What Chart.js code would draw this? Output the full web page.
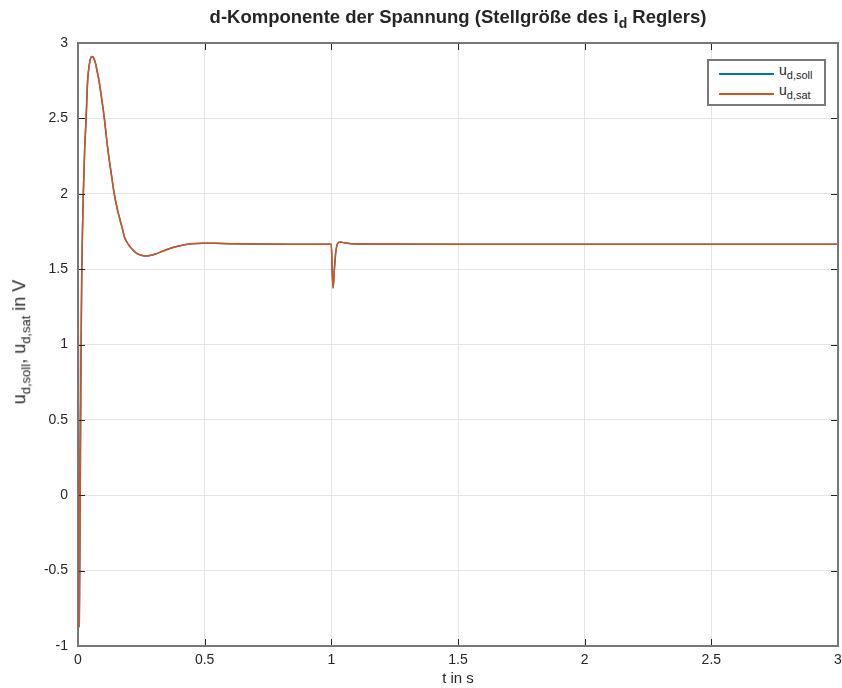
<!DOCTYPE html>
<html>
<head>
<meta charset="utf-8">
<script src="https://cdn.jsdelivr.net/npm/chart.js@4"></script>
<style>
body { margin: 0; background: #fff; }
#wrap { position: relative; width: 842px; height: 688px; font-family: "Liberation Sans", Arial, sans-serif; color: #262626; }
#title { position: absolute; left: 78px; width: 760px; top: 6px; text-align: center; font-weight: bold; font-size: 18.5px; }
#title sub { font-size: 14px; }
#ylab { position: absolute; left: 21px; top: 342px; transform: translate(-50%, -50%) rotate(-90deg); white-space: nowrap; font-size: 18px; }
#ylab sub { font-size: 13px; }
#legend { position: absolute; left: 707px; top: 59px; width: 115px; height: 43px; border: 2px solid #7a7a7a; background: #fff; font-size: 14px; }
#legend sub { font-size: 11px; }
.row { position: absolute; left: 10px; height: 16px; }
.row span.ln { position: absolute; left: 0; top: 7px; width: 55px; height: 2px; }
.row span.tx { position: absolute; left: 60px; top: -4px; white-space: nowrap; }
</style>
</head>
<body>
<div id="wrap">
  <canvas id="c" width="842" height="688"></canvas>
  <div id="title">d-Komponente der Spannung (Stellgröße des i<sub>d</sub> Reglers)</div>
  <div id="ylab">u<sub>d,soll</sub>, u<sub>d,sat</sub> in V</div>
  <div id="legend">
    <div class="row" style="top:5px"><span class="ln" style="background:#0072BD"></span><span class="tx">u<sub>d,soll</sub></span></div>
    <div class="row" style="top:25px"><span class="ln" style="background:#D95319"></span><span class="tx">u<sub>d,sat</sub></span></div>
  </div>
</div>
<script>
// time in s
const tVals = [0, 0.002, 0.005, 0.008, 0.011, 0.013, 0.015, 0.018, 0.021, 0.026, 0.032, 0.038, 0.045,
  0.05, 0.056, 0.062, 0.07, 0.077, 0.083, 0.09, 0.097, 0.104, 0.11, 0.116, 0.122, 0.129, 0.143, 0.155,
  0.166, 0.175, 0.183, 0.193, 0.205, 0.218, 0.232, 0.25, 0.265, 0.29, 0.31, 0.33, 0.36, 0.39,
  0.416, 0.449, 0.49, 0.54, 0.6, 0.7, 0.85, 1.0,
  1.003, 1.007, 1.012, 1.018, 1.025, 1.035, 1.05, 1.1, 1.5, 2.0, 2.5, 3.0]
// u_d,soll and u_d,sat (identical in the plot)
const uSoll = [1.9, 0.6, -0.87, -0.2, 0.7, 1.15, 1.5, 1.78, 2.0, 2.28, 2.5, 2.75, 2.86,
  2.9, 2.91, 2.9, 2.86, 2.8, 2.75, 2.67, 2.59, 2.5, 2.41, 2.32, 2.24, 2.16, 2.0, 1.9,
  1.826, 1.77, 1.715, 1.68, 1.649, 1.625, 1.605, 1.592, 1.587, 1.592, 1.603, 1.616, 1.635, 1.65,
  1.66, 1.668, 1.672, 1.671, 1.668, 1.666, 1.665, 1.665,
  1.5, 1.375, 1.5, 1.62, 1.67, 1.68, 1.675, 1.667, 1.665, 1.665, 1.665, 1.665]
const uSat = uSoll.slice()
const yTicks = [-1, -0.5, 0, 0.5, 1, 1.5, 2, 2.5, 3]
const xTicks = [0, 0.5, 1, 1.5, 2, 2.5, 3]

const pts = (ys) => tVals.map((t, i) => ({x: t, y: ys[i]}))
const tickFont = {family: '"Liberation Sans", Arial', size: 14}

// box around the axes with inward ticks, like matlab
const boxPlugin = {
  id: 'box',
  afterDraw(chart) {
    const {ctx, chartArea: a, scales} = chart
    ctx.save()
    ctx.strokeStyle = '#262626'
    ctx.lineWidth = 1
    ctx.beginPath()
    xTicks.forEach(v => {
      const px = Math.round(scales.x.getPixelForValue(v)) + 0.5
      ctx.moveTo(px, a.bottom); ctx.lineTo(px, a.bottom - 7)
      ctx.moveTo(px, a.top); ctx.lineTo(px, a.top + 7)
    })
    yTicks.forEach(v => {
      const py = Math.round(scales.y.getPixelForValue(v)) + 0.5
      ctx.moveTo(a.left, py); ctx.lineTo(a.left + 7, py)
      ctx.moveTo(a.right, py); ctx.lineTo(a.right - 7, py)
    })
    ctx.stroke()
    ctx.strokeStyle = '#777'
    ctx.lineWidth = 2
    ctx.strokeRect(a.left, a.top, a.right - a.left, a.bottom - a.top)
    ctx.restore()
  }
}

new Chart(document.getElementById('c'), {
  type: 'line',
  data: {
    datasets: [
      {label: 'u_d,soll', data: pts(uSoll), borderColor: '#0072BD', borderWidth: 1.5, pointRadius: 0, cubicInterpolationMode: 'monotone', order: 1},
      {label: 'u_d,sat', data: pts(uSat), borderColor: '#D95319', borderWidth: 1.5, pointRadius: 0, cubicInterpolationMode: 'monotone', order: 0}
    ]
  },
  options: {
    responsive: false,
    animation: false,
    layout: {padding: {left: 0, top: 43, right: 4, bottom: 0}},
    plugins: {legend: {display: false}, tooltip: {enabled: false}},
    scales: {
      x: {
        type: 'linear', min: 0, max: 3,
        afterBuildTicks: s => { s.ticks = xTicks.map(v => ({value: v})) },
        afterFit: s => { s.height = 42; s.paddingLeft = 0; s.paddingRight = 0 },
        grid: {color: '#e4e4e4', drawTicks: false},
        border: {display: false},
        ticks: {font: tickFont, color: '#262626', padding: 6, callback: v => String(v)},
        title: {display: true, text: 't in s', font: {family: '"Liberation Sans", Arial', size: 15}, color: '#262626', padding: {top: 0, bottom: 0}}
      },
      y: {
        min: -1, max: 3,
        afterBuildTicks: s => { s.ticks = yTicks.map(v => ({value: v})) },
        afterFit: s => { s.width = 78; s.paddingTop = 0; s.paddingBottom = 0 },
        grid: {color: '#e4e4e4', drawTicks: false},
        border: {display: false},
        ticks: {font: tickFont, color: '#262626', padding: 10, callback: v => String(v)}
      }
    }
  },
  plugins: [boxPlugin]
})
</script>
</body>
</html>
